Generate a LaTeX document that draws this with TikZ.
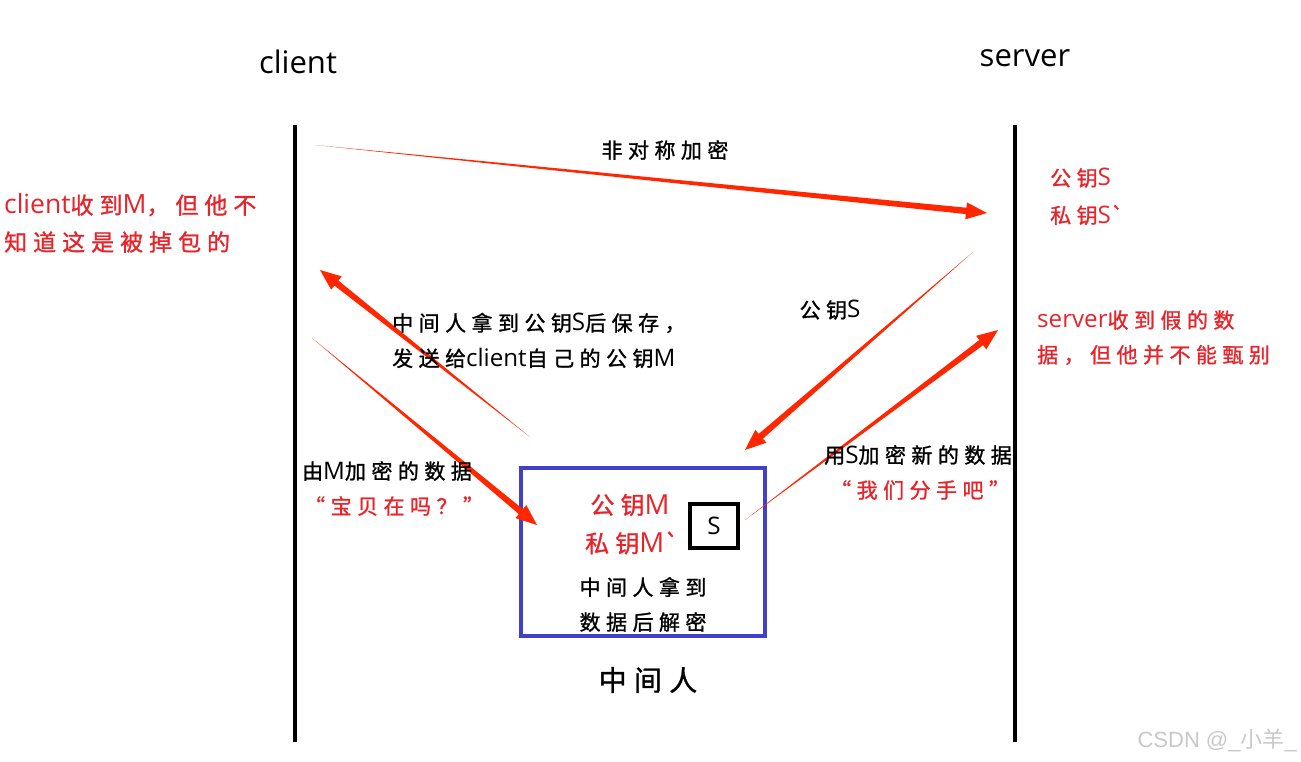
\documentclass[tikz,border=0pt]{standalone}
\usepackage{fontspec}
\usetikzlibrary{calc}
\setmainfont{Noto Sans CJK SC}
\newfontfamily\cjk[LetterSpace=26,FakeBold=1.2]{Noto Sans CJK SC}
\newfontfamily\latf[Scale=1.15]{Open Sans}
\newfontfamily\wm{Liberation Sans}
\newfontfamily\wmcjk{Noto Sans CJK SC}
\newcommand\lat[1]{{\latf #1}}
\definecolor{arrowred}{RGB}{255,38,0}
\definecolor{txtred}{RGB}{232,36,43}
\definecolor{boxblue}{RGB}{64,64,200}
\definecolor{wmgray}{RGB}{200,200,200}
\newcommand\taperarrow[2]{%
  \path ($(#2)!21pt!(#1)$) coordinate (#2-base);
  \fill[arrowred] (#1) -- ($(#2-base)!3.2pt!90:(#2)$) -- ($(#2-base)!8.5pt!90:(#2)$) -- (#2)
     -- ($(#2-base)!8.5pt!-90:(#2)$) -- ($(#2-base)!3.2pt!-90:(#2)$) -- cycle;}
\begin{document}
\begin{tikzpicture}[x=1pt,y=-1pt,
  lbl/.style={font=\cjk\fontsize{21}{21}\selectfont, inner sep=0pt},
  redlbl/.style={lbl, text=txtred},
  life/.style={line width=4pt},
  title/.style={font=\latf\fontsize{27}{27}\selectfont, inner sep=0pt}]
\useasboundingbox (0,0) rectangle (1301,761);
% titles
\node[title] (client) at (298,62) {client};
\node[title] (server) at (1025,58) {server};
% lifelines
\coordinate (cl-top) at (295,125); \coordinate (cl-bot) at (295,742);
\coordinate (sv-top) at (1015,125); \coordinate (sv-bot) at (1015,742);
\draw[life] (cl-top) -- (cl-bot);
\draw[life] (sv-top) -- (sv-bot);
% middle man box
\node[draw=boxblue, line width=4pt, minimum width=244pt, minimum height=168pt, inner sep=0pt] (mitm) at (643,552) {};
\node[draw=black, line width=3.5pt, minimum width=48pt, minimum height=44pt, inner sep=0pt, font=\latf\fontsize{21}{21}\selectfont] (sbox) at (714,526) {S};
\node[redlbl, font=\cjk\fontsize{24}{24}\selectfont] (pubm) at (630,505) {公钥\lat{M}};
\node[redlbl, font=\cjk\fontsize{24}{24}\selectfont] (privm) at (632,543) {私钥\lat{M}`};
\node[lbl] (mid1) at (643,587) {中间人拿到};
\node[lbl] (mid2) at (643,622) {数据后解密};
\node[lbl, font=\cjk\fontsize{28}{28}\selectfont] (mitmname) at (648,680) {中间人};
% arrows
\coordinate (a1s) at (315,145); \coordinate (a1e) at (987,213);
\coordinate (a2s) at (530,437); \coordinate (a2e) at (320,270);
\coordinate (a3s) at (312,338); \coordinate (a3e) at (537,525);
\coordinate (a4s) at (973,252); \coordinate (a4e) at (745,450);
\coordinate (a5s) at (745,520); \coordinate (a5e) at (998,330);
\taperarrow{a1s}{a1e}
\taperarrow{a2s}{a2e}
\taperarrow{a3s}{a3e}
\taperarrow{a4s}{a4e}
\taperarrow{a5s}{a5e}
% labels
\node[lbl] (l1) at (665,150) {非对称加密};
\node[lbl, anchor=west] (l2a) at (392,323) {中间人拿到公钥\lat{S}后保存，};
\node[lbl, anchor=west] (l2b) at (392,358) {发送给\lat{client}自己的公钥\lat{M}};
\node[lbl, anchor=west] (l3a) at (302,471) {由\lat{M}加密的数据};
\node[redlbl, anchor=west] (l3b) at (304,506) {“宝贝在吗？”};
\node[lbl] (l4) at (830,310) {公钥\lat{S}};
\node[lbl, anchor=east] (l5a) at (1012,455) {用\lat{S}加密新的数据};
\node[redlbl, anchor=west] (l5b) at (830,490) {“我们分手吧”};
% side notes
\node[redlbl, anchor=west, font=\cjk\fontsize{23}{23}\selectfont] (n1a) at (4,205) {\lat{client}收到\lat{M}，但他不};
\node[redlbl, anchor=west, font=\cjk\fontsize{23}{23}\selectfont] (n1b) at (4,242) {知道这是被掉包的};
\node[redlbl, anchor=west] (s1) at (1050,178) {公钥\lat{S}};
\node[redlbl, anchor=west] (s2) at (1050,215) {私钥\lat{S}`};
\node[redlbl, anchor=west] (n2a) at (1037,320) {\lat{server}收到假的数};
\node[redlbl, anchor=west] (n2b) at (1037,355) {据，但他并不能甄别};
% watermark
\node[font=\wm\fontsize{22}{22}\selectfont, text=wmgray, anchor=east, inner sep=0pt] (wmk) at (1297,740) {CSDN @\_{\wmcjk 小羊}\_};
\end{tikzpicture}
\end{document}
